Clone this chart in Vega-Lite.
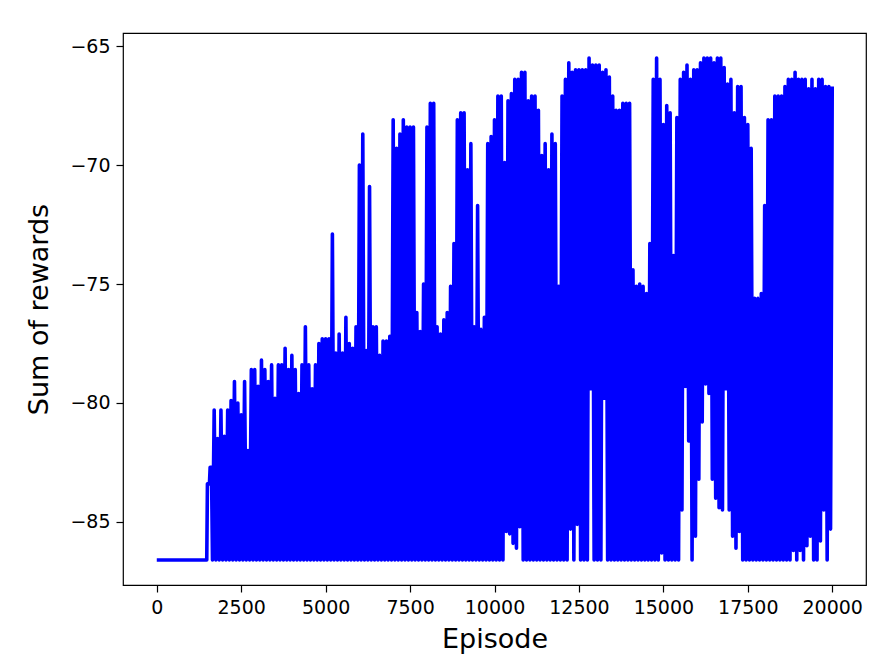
{
"$schema": "https://vega.github.io/schema/vega-lite/v6.json",
"width": 743,
"height": 552,
"autosize": {"type": "none"},
"padding": {"left": 123, "top": 33, "right": 25, "bottom": 75},
"background": "white",
"config": {
"font": "DejaVu Sans",
"view": {"stroke": "black", "strokeWidth": 1.2},
"axis": {"domain": false, "grid": false, "ticks": true, "tickColor": "black", "tickSize": 7, "tickWidth": 1.2, "labelFontSize": 19, "labelColor": "black", "labelPadding": 6, "titleFontSize": 27, "titleFontWeight": "normal", "titleColor": "black", "labelFont": "DejaVu Sans", "titleFont": "DejaVu Sans"}
},
"data": {"values": [
{"e":0,"r":-86.6},{"e":1480,"r":-86.6},{"e":1500,"r":-83.4},{"e":1560,"r":-83.4},{"e":1580,"r":-82.7},{"e":1620,"r":-82.7},{"e":1650,"r":-86.6},
{"e":1700,"r":-80.3},{"e":1750,"r":-86.6},{"e":1800,"r":-81.5},{"e":1850,"r":-86.6},{"e":1900,"r":-80.3},{"e":1950,"r":-86.6},
{"e":2000,"r":-81.4},{"e":2050,"r":-86.6},{"e":2100,"r":-80.3},{"e":2150,"r":-86.6},{"e":2200,"r":-79.9},{"e":2250,"r":-86.6},{"e":2300,"r":-79.1},{"e":2350,"r":-86.6},{"e":2400,"r":-80.0},{"e":2450,"r":-86.6},
{"e":2500,"r":-80.5},{"e":2550,"r":-86.6},{"e":2600,"r":-79.1},{"e":2650,"r":-86.6},{"e":2700,"r":-82.0},{"e":2750,"r":-86.6},{"e":2800,"r":-78.6},{"e":2850,"r":-86.6},{"e":2900,"r":-78.6},{"e":2950,"r":-86.6},
{"e":3000,"r":-79.3},{"e":3050,"r":-86.6},{"e":3100,"r":-78.2},{"e":3150,"r":-86.6},{"e":3200,"r":-78.6},{"e":3250,"r":-86.6},{"e":3300,"r":-79.1},{"e":3350,"r":-86.6},{"e":3400,"r":-78.4},{"e":3450,"r":-86.6},
{"e":3500,"r":-79.8},{"e":3550,"r":-86.6},{"e":3600,"r":-78.4},{"e":3650,"r":-86.6},{"e":3700,"r":-78.4},{"e":3750,"r":-86.6},{"e":3800,"r":-77.7},{"e":3850,"r":-86.6},{"e":3900,"r":-78.6},{"e":3950,"r":-86.6},
{"e":4000,"r":-78.0},{"e":4050,"r":-86.6},{"e":4100,"r":-78.6},{"e":4150,"r":-86.6},{"e":4200,"r":-79.6},{"e":4250,"r":-86.6},{"e":4300,"r":-78.4},{"e":4350,"r":-86.6},{"e":4400,"r":-76.8},{"e":4450,"r":-86.6},
{"e":4500,"r":-78.4},{"e":4550,"r":-86.6},{"e":4600,"r":-79.4},{"e":4650,"r":-86.6},{"e":4700,"r":-78.4},{"e":4750,"r":-86.6},{"e":4800,"r":-77.5},{"e":4850,"r":-86.6},{"e":4900,"r":-77.3},{"e":4950,"r":-86.6},
{"e":5000,"r":-77.3},{"e":5050,"r":-86.6},{"e":5100,"r":-77.3},{"e":5150,"r":-86.6},{"e":5200,"r":-72.9},{"e":5250,"r":-86.6},{"e":5300,"r":-77.9},{"e":5350,"r":-86.6},{"e":5400,"r":-77.1},{"e":5450,"r":-86.6},
{"e":5500,"r":-77.9},{"e":5550,"r":-86.6},{"e":5600,"r":-76.4},{"e":5650,"r":-86.6},{"e":5700,"r":-77.5},{"e":5750,"r":-86.6},{"e":5800,"r":-77.7},{"e":5850,"r":-86.6},{"e":5900,"r":-76.8},{"e":5950,"r":-86.6},
{"e":6000,"r":-70.0},{"e":6050,"r":-86.6},{"e":6100,"r":-68.7},{"e":6150,"r":-86.6},{"e":6200,"r":-77.8},{"e":6250,"r":-86.6},{"e":6300,"r":-70.9},{"e":6350,"r":-86.6},{"e":6400,"r":-76.8},{"e":6450,"r":-86.6},
{"e":6500,"r":-76.8},{"e":6550,"r":-86.6},{"e":6600,"r":-78.0},{"e":6650,"r":-86.6},{"e":6700,"r":-77.4},{"e":6750,"r":-86.6},{"e":6800,"r":-77.4},{"e":6850,"r":-86.6},{"e":6900,"r":-77.2},{"e":6950,"r":-86.6},
{"e":7000,"r":-68.1},{"e":7050,"r":-86.6},{"e":7100,"r":-69.3},{"e":7150,"r":-86.6},{"e":7200,"r":-68.7},{"e":7250,"r":-86.6},{"e":7300,"r":-68.1},{"e":7350,"r":-86.6},{"e":7400,"r":-68.4},{"e":7450,"r":-86.6},
{"e":7500,"r":-68.4},{"e":7550,"r":-86.6},{"e":7600,"r":-68.4},{"e":7650,"r":-86.6},{"e":7700,"r":-76.2},{"e":7750,"r":-86.6},{"e":7800,"r":-77.0},{"e":7850,"r":-86.6},{"e":7900,"r":-75.0},{"e":7950,"r":-86.6},
{"e":8000,"r":-68.4},{"e":8050,"r":-86.6},{"e":8100,"r":-67.4},{"e":8150,"r":-86.6},{"e":8200,"r":-67.4},{"e":8250,"r":-86.6},{"e":8300,"r":-76.8},{"e":8350,"r":-86.6},{"e":8400,"r":-77.1},{"e":8450,"r":-86.6},
{"e":8500,"r":-76.5},{"e":8550,"r":-86.6},{"e":8600,"r":-76.2},{"e":8650,"r":-86.6},{"e":8700,"r":-75.1},{"e":8750,"r":-86.6},{"e":8800,"r":-73.3},{"e":8850,"r":-86.6},{"e":8900,"r":-68.1},{"e":8950,"r":-86.6},
{"e":9000,"r":-67.8},{"e":9050,"r":-86.6},{"e":9100,"r":-67.8},{"e":9150,"r":-86.6},{"e":9200,"r":-70.2},{"e":9250,"r":-86.6},{"e":9300,"r":-69.1},{"e":9350,"r":-86.6},{"e":9400,"r":-76.8},{"e":9450,"r":-86.6},
{"e":9500,"r":-71.7},{"e":9550,"r":-86.6},{"e":9600,"r":-76.9},{"e":9650,"r":-86.6},{"e":9700,"r":-76.4},{"e":9750,"r":-86.6},{"e":9800,"r":-69.1},{"e":9850,"r":-86.6},{"e":9900,"r":-68.8},{"e":9950,"r":-86.6},
{"e":10000,"r":-68.1},{"e":10050,"r":-86.6},{"e":10100,"r":-67.1},{"e":10150,"r":-86.6},{"e":10200,"r":-67.1},{"e":10250,"r":-86.6},{"e":10300,"r":-69.9},{"e":10350,"r":-85.4},{"e":10400,"r":-67.3},{"e":10450,"r":-85.5},
{"e":10500,"r":-67.0},{"e":10550,"r":-85.9},{"e":10600,"r":-66.4},{"e":10650,"r":-86.1},{"e":10700,"r":-66.4},{"e":10750,"r":-85.2},{"e":10800,"r":-66.1},{"e":10850,"r":-86.6},{"e":10900,"r":-66.1},{"e":10950,"r":-86.6},
{"e":11000,"r":-67.3},{"e":11050,"r":-86.6},{"e":11100,"r":-67.1},{"e":11150,"r":-86.6},{"e":11200,"r":-67.1},{"e":11250,"r":-86.6},{"e":11300,"r":-67.7},{"e":11350,"r":-86.6},{"e":11400,"r":-69.6},{"e":11450,"r":-86.6},
{"e":11500,"r":-69.1},{"e":11550,"r":-86.6},{"e":11600,"r":-70.2},{"e":11650,"r":-86.6},{"e":11700,"r":-68.7},{"e":11750,"r":-86.6},{"e":11800,"r":-69.1},{"e":11850,"r":-86.6},{"e":11900,"r":-75.1},{"e":11950,"r":-86.6},
{"e":12000,"r":-67.1},{"e":12050,"r":-86.6},{"e":12100,"r":-66.4},{"e":12150,"r":-86.6},{"e":12200,"r":-65.7},{"e":12250,"r":-85.3},{"e":12300,"r":-66.1},{"e":12350,"r":-86.6},{"e":12400,"r":-66.0},{"e":12450,"r":-85.1},
{"e":12500,"r":-66.0},{"e":12550,"r":-86.6},{"e":12600,"r":-66.0},{"e":12650,"r":-86.6},{"e":12700,"r":-66.0},{"e":12750,"r":-86.6},{"e":12800,"r":-65.5},{"e":12850,"r":-79.4},{"e":12900,"r":-65.8},{"e":12950,"r":-86.6},
{"e":13000,"r":-65.8},{"e":13050,"r":-86.6},{"e":13100,"r":-65.8},{"e":13150,"r":-86.6},{"e":13200,"r":-66.1},{"e":13250,"r":-79.8},{"e":13300,"r":-66.0},{"e":13350,"r":-86.6},{"e":13400,"r":-66.3},{"e":13450,"r":-86.6},
{"e":13500,"r":-67.1},{"e":13550,"r":-86.6},{"e":13600,"r":-67.7},{"e":13650,"r":-86.6},{"e":13700,"r":-67.7},{"e":13750,"r":-86.6},{"e":13800,"r":-67.4},{"e":13850,"r":-86.6},{"e":13900,"r":-67.4},{"e":13950,"r":-86.6},
{"e":14000,"r":-67.4},{"e":14050,"r":-86.6},{"e":14100,"r":-74.4},{"e":14150,"r":-86.6},{"e":14200,"r":-75.1},{"e":14250,"r":-86.6},{"e":14300,"r":-75.0},{"e":14350,"r":-86.6},{"e":14400,"r":-75.1},{"e":14450,"r":-86.6},
{"e":14500,"r":-75.4},{"e":14550,"r":-86.6},{"e":14600,"r":-73.3},{"e":14650,"r":-86.6},{"e":14700,"r":-66.4},{"e":14750,"r":-86.6},{"e":14800,"r":-65.5},{"e":14850,"r":-86.6},{"e":14900,"r":-66.4},{"e":14950,"r":-86.3},
{"e":15000,"r":-68.3},{"e":15050,"r":-86.6},{"e":15100,"r":-67.5},{"e":15150,"r":-86.6},{"e":15200,"r":-67.8},{"e":15250,"r":-86.6},{"e":15300,"r":-73.8},{"e":15350,"r":-86.6},{"e":15400,"r":-68.0},{"e":15450,"r":-86.6},
{"e":15500,"r":-66.4},{"e":15550,"r":-84.5},{"e":15600,"r":-66.1},{"e":15650,"r":-79.3},{"e":15700,"r":-65.8},{"e":15750,"r":-81.6},{"e":15800,"r":-66.4},{"e":15850,"r":-86.6},{"e":15900,"r":-66.0},{"e":15950,"r":-85.6},
{"e":16000,"r":-66.0},{"e":16050,"r":-83.2},{"e":16100,"r":-65.7},{"e":16150,"r":-80.8},{"e":16200,"r":-65.5},{"e":16250,"r":-79.2},{"e":16300,"r":-65.5},{"e":16350,"r":-79.6},{"e":16400,"r":-65.5},{"e":16450,"r":-83.2},
{"e":16500,"r":-65.7},{"e":16550,"r":-84.0},{"e":16600,"r":-65.5},{"e":16650,"r":-84.4},{"e":16700,"r":-65.5},{"e":16750,"r":-84.5},{"e":16800,"r":-65.9},{"e":16850,"r":-79.4},{"e":16900,"r":-66.6},{"e":16950,"r":-84.5},
{"e":17000,"r":-66.4},{"e":17050,"r":-85.6},{"e":17100,"r":-67.8},{"e":17150,"r":-86.1},{"e":17200,"r":-66.7},{"e":17250,"r":-85.4},{"e":17300,"r":-66.7},{"e":17350,"r":-86.6},{"e":17400,"r":-68.0},{"e":17450,"r":-86.6},
{"e":17500,"r":-68.3},{"e":17550,"r":-86.6},{"e":17600,"r":-69.3},{"e":17650,"r":-86.6},{"e":17700,"r":-75.6},{"e":17750,"r":-86.6},{"e":17800,"r":-75.6},{"e":17850,"r":-86.6},{"e":17900,"r":-75.4},{"e":17950,"r":-86.6},
{"e":18000,"r":-71.7},{"e":18050,"r":-86.6},{"e":18100,"r":-68.1},{"e":18150,"r":-86.6},{"e":18200,"r":-68.1},{"e":18250,"r":-86.6},{"e":18300,"r":-67.1},{"e":18350,"r":-86.6},{"e":18400,"r":-67.1},{"e":18450,"r":-86.6},
{"e":18500,"r":-67.1},{"e":18550,"r":-86.6},{"e":18600,"r":-66.7},{"e":18650,"r":-86.6},{"e":18700,"r":-66.4},{"e":18750,"r":-86.6},{"e":18800,"r":-66.4},{"e":18850,"r":-86.2},{"e":18900,"r":-66.1},{"e":18950,"r":-86.6},
{"e":19000,"r":-66.4},{"e":19050,"r":-86.2},{"e":19100,"r":-66.4},{"e":19150,"r":-86.6},{"e":19200,"r":-66.4},{"e":19250,"r":-86.0},{"e":19300,"r":-66.8},{"e":19350,"r":-85.6},{"e":19400,"r":-66.4},{"e":19450,"r":-86.6},
{"e":19500,"r":-66.8},{"e":19550,"r":-86.6},{"e":19600,"r":-66.4},{"e":19650,"r":-85.8},{"e":19700,"r":-66.4},{"e":19750,"r":-84.5},{"e":19800,"r":-66.7},{"e":19850,"r":-86.6},{"e":19900,"r":-66.7},{"e":19950,"r":-85.3},
{"e":20000,"r":-66.7}
]},
"mark": {"type": "line", "color": "#0000ff", "strokeWidth": 3.6, "strokeJoin": "round", "clip": true},
"encoding": {
"x": {"field": "e", "type": "quantitative", "scale": {"domain": [-1000, 21000], "nice": false, "zero": false}, "axis": {"values": [0, 2500, 5000, 7500, 10000, 12500, 15000, 17500, 20000], "format": "d", "title": "Episode", "titlePadding": 9}},
"y": {"field": "r", "type": "quantitative", "scale": {"domain": [-87.65, -64.45], "nice": false, "zero": false}, "axis": {"values": [-85, -80, -75, -70, -65], "format": "d", "title": "Sum of rewards", "titlePadding": 16}}
}
}
